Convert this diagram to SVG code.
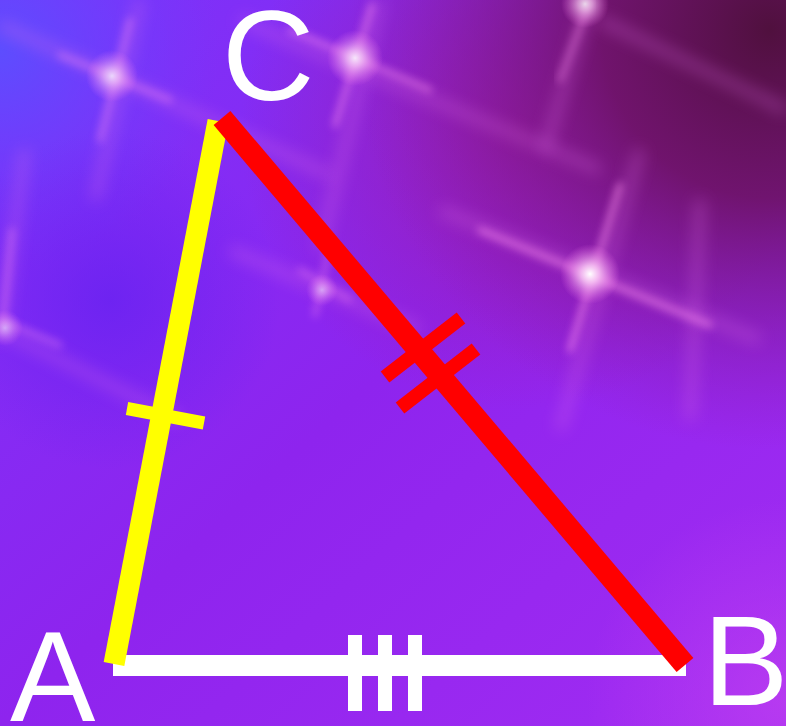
<svg xmlns="http://www.w3.org/2000/svg" width="786" height="726" viewBox="0 0 786 726">
<defs>
<linearGradient id="base" x1="0" y1="0" x2="1" y2="1">
<stop offset="0" stop-color="#7a34fb"/>
<stop offset="0.5" stop-color="#8e24ee"/>
<stop offset="1" stop-color="#a22cf2"/>
</linearGradient>
<radialGradient id="dark" cx="770" cy="30" r="420" gradientUnits="userSpaceOnUse">
<stop offset="0" stop-color="#50103e" stop-opacity="1"/>
<stop offset="0.4" stop-color="#6c1262" stop-opacity="0.9"/>
<stop offset="1" stop-color="#8a1aa0" stop-opacity="0"/>
</radialGradient>
<radialGradient id="mag" cx="520" cy="130" r="280" gradientUnits="userSpaceOnUse">
<stop offset="0" stop-color="#9c1a9c" stop-opacity="0.75"/>
<stop offset="1" stop-color="#9c1a9c" stop-opacity="0"/>
</radialGradient>
<radialGradient id="blue" cx="0" cy="50" r="220" gradientUnits="userSpaceOnUse">
<stop offset="0" stop-color="#5a50ff" stop-opacity="0.9"/>
<stop offset="1" stop-color="#6a40ff" stop-opacity="0"/>
</radialGradient>
<radialGradient id="blue2" cx="110" cy="300" r="170" gradientUnits="userSpaceOnUse">
<stop offset="0" stop-color="#6420f0" stop-opacity="0.7"/>
<stop offset="1" stop-color="#6420f0" stop-opacity="0"/>
</radialGradient>
<radialGradient id="pinkbr" cx="786" cy="700" r="200" gradientUnits="userSpaceOnUse">
<stop offset="0" stop-color="#c040f0" stop-opacity="0.7"/>
<stop offset="1" stop-color="#c040f0" stop-opacity="0"/>
</radialGradient>
<radialGradient id="glow">
<stop offset="0" stop-color="#ffffff" stop-opacity="1"/>
<stop offset="0.3" stop-color="#ffd0f8" stop-opacity="0.8"/>
<stop offset="1" stop-color="#ff80f0" stop-opacity="0"/>
</radialGradient>
<filter id="blur" x="-20%" y="-20%" width="140%" height="140%">
<feGaussianBlur stdDeviation="4"/>
</filter>
<filter id="blur2" x="-20%" y="-20%" width="140%" height="140%">
<feGaussianBlur stdDeviation="8"/>
</filter>
</defs>
<style>
.streak{stroke:#ff90f0;stroke-width:5;fill:none;filter:url(#blur);stroke-linecap:round}
.faint{stroke:#e070e8;stroke-width:8;fill:none;filter:url(#blur2);opacity:0.4}
.lbl{font-family:"Liberation Sans",Arial,sans-serif;font-size:128px;fill:#ffffff}
.side{fill:none;stroke-linecap:butt}
</style>
<g id="background">
<rect x="0" y="0" width="786" height="726" fill="url(#base)"/>
<rect x="0" y="0" width="786" height="726" fill="url(#mag)"/>
<rect x="0" y="0" width="786" height="726" fill="url(#dark)"/>
<rect x="0" y="0" width="786" height="726" fill="url(#blue)"/>
<rect x="0" y="0" width="786" height="726" fill="url(#blue2)"/>
<rect x="0" y="0" width="786" height="726" fill="url(#pinkbr)"/>
<path class="faint" d="M0 25 L330 175 M240 20 L600 170 M440 210 L760 340 M600 20 L786 110 M0 330 L180 420 M230 250 L420 330"/>
<path class="faint" d="M140 0 L95 200 M380 0 L320 250 M590 0 L545 150 M640 150 L560 430 M25 150 L0 340 M700 200 L690 420"/>
<path class="streak" opacity="0.5" d="M60 55 L170 100 M130 20 L100 140"/>
<path class="streak" opacity="0.6" d="M290 30 L430 90 M372 5 L335 125"/>
<path class="streak" opacity="0.7" d="M480 230 L710 325 M620 185 L570 350"/>
<path class="streak" opacity="0.5" d="M590 0 L560 80"/>
<path class="streak" opacity="0.45" d="M0 320 L60 345 M12 230 L2 330"/>
<path class="streak" opacity="0.4" d="M300 270 L350 300 M330 245 L315 315"/>
<circle cx="112" cy="76" r="26" fill="url(#glow)" opacity="0.75"/>
<circle cx="355" cy="58" r="28" fill="url(#glow)" opacity="0.85"/>
<circle cx="590" cy="274" r="30" fill="url(#glow)"/>
<circle cx="585" cy="4" r="24" fill="url(#glow)" opacity="0.8"/>
<circle cx="322" cy="290" r="16" fill="url(#glow)" opacity="0.5"/>
<circle cx="5" cy="328" r="18" fill="url(#glow)" opacity="0.5"/>
</g>
<g id="connectors">
<line id="side-AB" class="side" x1="113" y1="665.5" x2="686" y2="665.5" stroke="#ffffff" stroke-width="21"/>
<line id="side-AC" class="side" x1="114" y1="664" x2="218" y2="121" stroke="#ffff00" stroke-width="21"/>
<line id="side-CB" class="side" x1="222" y1="118" x2="685" y2="665" stroke="#ff0000" stroke-width="22"/>
</g>
<g id="ticks">
<rect x="348" y="635" width="14" height="76" fill="#ffffff"/>
<rect x="378" y="635" width="14" height="76" fill="#ffffff"/>
<rect x="408" y="635" width="14" height="76" fill="#ffffff"/>
<line x1="127" y1="408.5" x2="204" y2="423" stroke="#ffff00" stroke-width="13"/>
<line x1="385" y1="377" x2="461" y2="318" stroke="#ff0000" stroke-width="14"/>
<line x1="400" y1="408" x2="476" y2="349" stroke="#ff0000" stroke-width="14"/>
</g>
<g id="node-A"><text class="lbl" x="10" y="721">A</text></g>
<g id="node-B"><text class="lbl" x="703" y="705">B</text></g>
<g id="node-C"><text class="lbl" x="222" y="100">C</text></g>
</svg>
